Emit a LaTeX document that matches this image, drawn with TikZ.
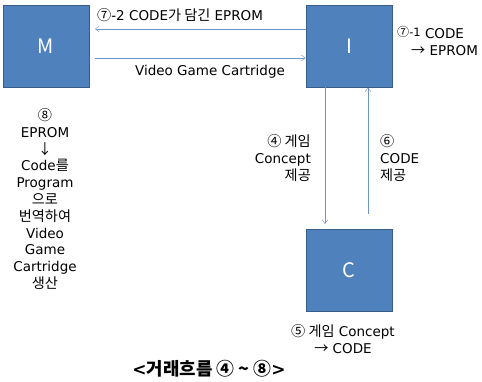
\documentclass[tikz,border=0pt]{standalone}
\usepackage{fontspec}
\setmainfont{DejaVu Sans}
\newfontfamily\kr{Noto Sans CJK KR}[Scale=1.05]
\usepackage{tikz}
\usetikzlibrary{arrows.meta}
\definecolor{boxblue}{HTML}{4F81BD}
\definecolor{boxedge}{HTML}{385D8A}
\definecolor{lineblue}{HTML}{6E93C8}
\newcommand{\ko}[1]{{\kr #1}}
\tikzstyle{box} = [draw=boxedge,thick,fill=boxblue,minimum width=86pt,minimum height=82pt,inner sep=0pt,text=white,font=\kr\fontsize{19}{19}\selectfont]
\tikzstyle{arrow} = [-{Straight Barb[length=4pt,width=6pt]},lineblue,thin]
\tikzstyle{lbl} = [inner sep=0pt,font=\fontsize{13.5}{16.8}\selectfont]
\begin{document}
\begin{tikzpicture}[x=1pt,y=-1pt]
      \useasboundingbox (0,0) rectangle (482,382);
      \node[box](M) at (46,46){M};
      \node[box](I) at (349,46){I};
      \node[box](C) at (349,270){C};
      % horizontal flows
      \coordinate(mtop) at (95,29);
      \coordinate(mbot) at (95,58);
      \draw[arrow](I.west|-mtop)--(mtop);
      \draw[arrow](mbot)--(I.west|-mbot);
      \node[lbl,anchor=west](eprom) at (97,15){\ko{⑦}-2 CODE\ko{가 담긴} EPROM};
      \node[lbl](cart) at (210,72){Video Game Cartridge};
      \node[lbl,anchor=west,align=left](code1) at (397,41){\raisebox{2pt}{\fontsize{11.5}{11.5}\selectfont\ko{⑦}-1} CODE\\\hspace*{14pt}\ko{→} EPROM};
      % vertical flows
      \coordinate(cdown) at (325,224);
      \coordinate(cup) at (368,214);
      \draw[arrow](I.south-|cdown)--(cdown);
      \draw[arrow](cup)--(I.south-|cup);
      \node[lbl,anchor=east,align=right](concept) at (311,158){\ko{④ 게임}\\Concept\\\ko{제공}};
      \node[lbl,anchor=west,align=left](codeup) at (380,158){\ko{⑥}\\CODE\\\ko{제공}};
      \node[lbl,align=center](trans) at (343,339){\ko{⑤ 게임} Concept\\\ko{→} CODE};
      % manufacturer note
      \node[lbl,align=center](make) at (45,199){\ko{⑧}\\EPROM\\\ko{↓}\\Code\ko{를}\\Program\\\ko{으로}\\\ko{번역하여}\\Video\\Game\\Cartridge\\\ko{생산}};
      \node[lbl,font=\fontsize{17}{17}\selectfont\bfseries](title) at (209,369){<\ko{\bfseries 거래흐름 ④ \textasciitilde{} ⑧}>};
    \end{tikzpicture}
\end{document}
